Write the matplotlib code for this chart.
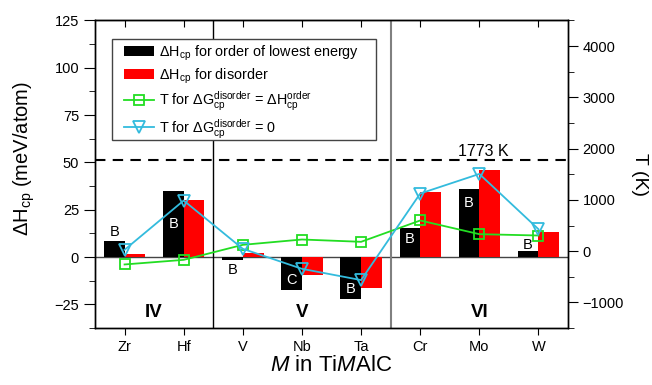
import numpy as np
import matplotlib
matplotlib.use('Agg')
import matplotlib.pyplot as plt
from matplotlib.ticker import MultipleLocator
from matplotlib.patches import Rectangle

plt.rcParams['font.family'] = ['Liberation Sans', 'DejaVu Sans']
plt.rcParams['mathtext.fontset'] = 'custom'
plt.rcParams['mathtext.rm'] = 'Liberation Sans'
plt.rcParams['mathtext.it'] = 'Liberation Sans:italic'
plt.rcParams['mathtext.bf'] = 'Liberation Sans:bold'

# data
elements = ['Zr', 'Hf', 'V', 'Nb', 'Ta', 'Cr', 'Mo', 'W']
dh_order = [8.7, 34.8, -1.8, -17.3, -22.2, 15.6, 35.7, 3.2]
dh_disorder = [1.4, 30.2, 2.1, -9.5, -16.4, 34.3, 46.1, 13.4]
t_equal = [-260, -170, 123, 227, 182, 598, 331, 305]
t_zero = [26, 987, 45, -345, -565, 1124, 1506, 428]
phase = ['B', 'B', 'B', 'C', 'B', 'B', 'B', 'B']
groups = ['IV', 'V', 'VI']
t_line = 1773

green = '#22dd22'
cyan = '#33bbdd'

fig = plt.figure(figsize=(6.52, 3.85), dpi=100)
ax = fig.add_axes([0.1457, 0.148, 0.7255, 0.7988])
ax2 = ax.twinx()

x = np.arange(len(elements))
w = 0.35
b1 = ax.bar(x - w / 2, dh_order, w, color='black', label=r'$\Delta$H$_{\rm cp}$ for order of lowest energy')
b2 = ax.bar(x + w / 2, dh_disorder, w, color='red', label=r'$\Delta$H$_{\rm cp}$ for disorder')
ax.axhline(0, color='#444444', lw=1.0, zorder=0.5)

# group separators
ax.axvline(1.5, color='black', lw=1.0)
ax.axvline(4.5, color='#808080', lw=1.5)
for g, gx in zip(groups, [0.5, 3, 6]):
    ax.text(gx, -29.5, g, ha='center', va='center', fontsize=13.5, fontweight='bold')

# phase labels on the black bars
label_y = [13.5, 17.6, -6.7, -12.3, -16.9, 9.5, 28.8, 6.6]
inside = [False, True, False, True, True, True, True, False]
for i in range(len(elements)):
    ax.text(x[i] - w / 2, label_y[i], phase[i], ha='center', va='center', fontsize=10.5,
            color='white' if inside[i] else 'black')

ax.set_xlim(-0.5, 7.5)
ax.set_ylim(-37.5, 125)
ax.set_xticks(x)
ax.set_xticklabels(elements, fontsize=10.5)
ax.yaxis.set_major_locator(MultipleLocator(25))
ax.yaxis.set_minor_locator(MultipleLocator(12.5))
ax.tick_params(axis='y', which='major', direction='out', length=8, labelsize=10.5)
ax.tick_params(axis='y', which='minor', direction='out', length=4)
ax.tick_params(axis='x', which='major', direction='out', length=5)
ax.set_xlabel(r'$\it{M}$ in Ti$\it{M}$AlC', fontsize=16, labelpad=1)
ax.set_ylabel(r'$\Delta$H$_{\rm cp}$ (meV/atom)', fontsize=14.5)
ax.yaxis.set_label_coords(-0.123, 0.55)

# secondary axis: temperatures
l1, = ax2.plot(x, t_equal, '-s', color=green, mfc='none', mec=green, ms=7, mew=1.3, lw=1.3,
               label=r'T for $\Delta$G$_{\rm cp}^{\rm disorder}$ = $\Delta$H$_{\rm cp}^{\rm order}$')
l2, = ax2.plot(x, t_zero, '-v', color=cyan, mfc='none', mec=cyan, ms=9, mew=1.3, lw=1.3,
               label=r'T for $\Delta$G$_{\rm cp}^{\rm disorder}$ = 0')
ax2.axhline(t_line, color='black', lw=1.5, ls=(0, (5, 3.5)))
ax2.text(6.06, t_line + 30, '%d K' % t_line, ha='center', va='bottom', fontsize=11.5)
ax2.set_ylim(-1500, 4500)
ax2.yaxis.set_major_locator(MultipleLocator(1000))
ax2.yaxis.set_minor_locator(MultipleLocator(500))
ax2.tick_params(axis='y', which='major', direction='out', length=7, labelsize=10.5)
ax2.tick_params(axis='y', which='minor', direction='out', length=4)
ax2.set_ylabel('T (K)', rotation=-90, fontsize=14, labelpad=17)

for a in (ax, ax2):
    for s in a.spines.values():
        s.set_linewidth(1.0)

# top ticks point inward
sec = ax.secondary_xaxis('top')
sec.set_xticks(x)
sec.tick_params(direction='in', length=5, labeltop=False)

# legend box drawn by hand so the padding matches
ax2.add_patch(Rectangle((0.0353, 0.610), 0.5587, 0.3306, transform=ax2.transAxes,
                        facecolor='white', edgecolor='#444444', lw=1.0, zorder=4))
leg = ax2.legend(handles=[b1, b2, l1, l2], loc='upper left', bbox_to_anchor=(0.0613, 0.925),
                 borderaxespad=0, borderpad=0, fontsize=10.4, frameon=False,
                 handlelength=2.1, handletextpad=0.35, labelspacing=0.25)
leg.set_zorder(5)

fig.savefig('out.png', dpi=100)
